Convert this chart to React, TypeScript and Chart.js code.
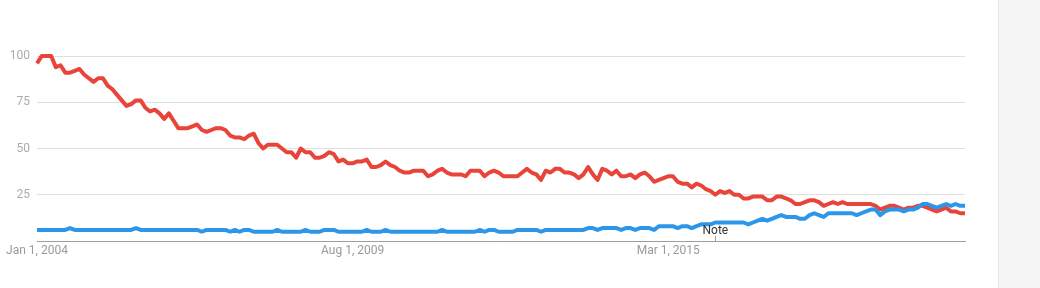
import React, { useEffect, useRef } from "react";
import { Chart, registerables } from "chart.js";

Chart.register(...registerables);

const monthNames = ["Jan", "Feb", "Mar", "Apr", "May", "Jun", "Jul", "Aug", "Sep", "Oct", "Nov", "Dec"];
const startYear = 2004;
const monthCount = 198;
const categories: string[] = Array.from({ length: monthCount }, (_, i) => `${monthNames[i % 12]} ${startYear + Math.floor(i / 12)}`);

const xTickCategories = ["Jan 2004", "Aug 2009", "Mar 2015"];
const xTickLabels = ["Jan 1, 2004", "Aug 1, 2009", "Mar 1, 2015"];
const yTickValues = [25, 50, 75, 100];
const noteCategory = "Jan 2016";
const noteText = "Note";

const redSeries = [
  96, 100, 100, 100, 94, 95, 91, 91, 92, 93,
  90, 88, 86, 88, 88, 84, 82, 79, 76, 73,
  74, 76, 76, 72, 70, 71, 69, 66, 69, 65,
  61, 61, 61, 62, 63, 60, 59, 60, 61, 61,
  60, 57, 56, 56, 55, 57, 58, 53, 50, 52,
  52, 52, 50, 48, 48, 45, 50, 48, 48, 45,
  45, 46, 48, 47, 43, 44, 42, 42, 43, 43,
  44, 40, 40, 41, 43, 41, 40, 38, 37, 37,
  38, 38, 38, 35, 36, 38, 39, 37, 36, 36,
  36, 35, 38, 38, 38, 35, 37, 38, 37, 35,
  35, 35, 35, 37, 39, 37, 36, 33, 38, 37,
  39, 39, 37, 37, 36, 34, 36, 40, 36, 33,
  39, 38, 36, 38, 35, 35, 36, 34, 36, 37,
  35, 32, 33, 34, 35, 35, 32, 31, 31, 29,
  31, 30, 28, 27, 25, 27, 26, 27, 25, 25,
  23, 23, 24, 24, 24, 22, 22, 24, 24, 23,
  22, 20, 20, 21, 22, 22, 21, 19, 20, 21,
  20, 21, 20, 20, 20, 20, 20, 20, 19, 17,
  18, 19, 19, 18, 17, 18, 18, 19, 19, 18,
  17, 16, 17, 18, 16, 16, 15, 15,
];

const blueSeries = [
  6, 6, 6, 6, 6, 6, 6, 7, 6, 6,
  6, 6, 6, 6, 6, 6, 6, 6, 6, 6,
  6, 7, 6, 6, 6, 6, 6, 6, 6, 6,
  6, 6, 6, 6, 6, 5, 6, 6, 6, 6,
  6, 5, 6, 5, 6, 6, 5, 5, 5, 5,
  5, 6, 5, 5, 5, 5, 5, 6, 5, 5,
  5, 6, 6, 6, 5, 5, 5, 5, 5, 5,
  6, 5, 5, 5, 6, 5, 5, 5, 5, 5,
  5, 5, 5, 5, 5, 5, 6, 5, 5, 5,
  5, 5, 5, 5, 6, 5, 6, 6, 5, 5,
  5, 5, 6, 6, 6, 6, 6, 5, 6, 6,
  6, 6, 6, 6, 6, 6, 6, 7, 7, 6,
  7, 7, 7, 7, 6, 7, 7, 6, 7, 7,
  7, 6, 8, 8, 8, 8, 7, 8, 8, 7,
  8, 9, 9, 9, 10, 10, 10, 10, 10, 10,
  10, 9, 10, 11, 12, 11, 12, 13, 14, 13,
  13, 13, 12, 12, 14, 15, 14, 13, 15, 15,
  15, 15, 15, 15, 14, 15, 16, 17, 17, 14,
  16, 17, 17, 17, 16, 17, 17, 18, 20, 20,
  19, 18, 19, 20, 19, 20, 19, 19,
];

const FONT = "Roboto, 'Noto Sans', Arial, sans-serif";

const notePlugin = {
  id: "notePlugin",
  afterDatasetsDraw(chart: any) {
    const xScale = chart.scales.x;
    const idx = categories.indexOf(noteCategory);
    if (idx < 0) return;
    const x = xScale.getPixelForValue(idx);
    const bottom = chart.chartArea.bottom;
    const ctx = chart.ctx;
    ctx.save();
    ctx.strokeStyle = "#9e9e9e";
    ctx.lineWidth = 1;
    ctx.beginPath();
    ctx.moveTo(Math.round(x) + 0.5, bottom - 5);
    ctx.lineTo(Math.round(x) + 0.5, bottom);
    ctx.stroke();
    ctx.fillStyle = "#333333";
    ctx.font = `12px ${FONT}`;
    ctx.textAlign = "center";
    ctx.textBaseline = "middle";
    ctx.fillText(noteText, x, bottom - 10);
    ctx.restore();
  },
};

export default function App() {
  const canvasRef = useRef<HTMLCanvasElement | null>(null);

  useEffect(() => {
    let chart: Chart | null = null;
    let cancelled = false;
    const build = () => {
      if (cancelled || !canvasRef.current) return;
      chart = new Chart(canvasRef.current, {
        type: "line",
        data: {
          labels: categories,
          datasets: [
            {
              label: "Blue",
              data: blueSeries,
              borderColor: "#2b96ea",
              backgroundColor: "#2b96ea",
              borderWidth: 4,
              pointRadius: 0,
              tension: 0,
              clip: false as any,
              borderJoinStyle: "round",
            },
            {
              label: "Red",
              data: redSeries,
              borderColor: "#e8443a",
              backgroundColor: "#e8443a",
              borderWidth: 4,
              pointRadius: 0,
              tension: 0,
              clip: false as any,
              borderJoinStyle: "round",
            },
          ],
        },
        options: {
          responsive: false,
          animation: false,
          events: [],
          layout: { padding: { top: 56, right: 75, left: 0, bottom: 0 } },
          plugins: {
            legend: { display: false },
            tooltip: { enabled: false },
          },
          scales: {
            x: {
              type: "category",
              offset: false,
              grid: { display: false, drawTicks: false },
              border: { display: true, color: "#9e9e9e", width: 1 },
              ticks: {
                autoSkip: false,
                maxRotation: 0,
                minRotation: 0,
                padding: 3,
                color: "#9a9a9a",
                font: { family: FONT, size: 12 },
                callback: function (this: any, value: any) {
                  const lbl = this.getLabelForValue(value);
                  const k = xTickCategories.indexOf(lbl);
                  return k >= 0 ? xTickLabels[k] : null;
                },
              },
              afterFit: (scale: any) => {
                scale.height = 47;
              },
            },
            y: {
              min: 0,
              max: 100,
              afterBuildTicks: (scale: any) => {
                scale.ticks = [0, ...yTickValues].map((v) => ({ value: v }));
              },
              grid: {
                drawTicks: false,
                color: (ctx: any) => (ctx.tick && ctx.tick.value === 0 ? "rgba(0,0,0,0)" : "#e0e0e0"),
                lineWidth: 1,
              },
              border: { display: false },
              ticks: {
                padding: 7,
                color: "#ababab",
                font: { family: FONT, size: 12 },
                callback: (value: any) => (value === 0 ? "" : String(value)),
              },
              afterFit: (scale: any) => {
                scale.width = 37;
              },
            },
          },
        },
        plugins: [notePlugin],
      });
    };
    const fontsReady = (document as any).fonts && (document as any).fonts.load
      ? (document as any).fonts.load(`12px Roboto`).catch(() => null)
      : Promise.resolve();
    fontsReady.then(build);
    return () => {
      cancelled = true;
      if (chart) chart.destroy();
    };
  }, []);

  return (
    <div style={{ position: "absolute", left: 0, top: 0, width: 1040, height: 288, background: "#ffffff", overflow: "hidden" }}>
      <canvas ref={canvasRef} width={1040} height={288} style={{ display: "block", width: 1040, height: 288 }} />
      <div
        style={{
          position: "absolute",
          left: 998,
          top: 0,
          width: 42,
          height: 288,
          background: "#f5f5f5",
          borderLeft: "1px solid #e6e6e6",
          boxSizing: "border-box",
        }}
      />
    </div>
  );
}
